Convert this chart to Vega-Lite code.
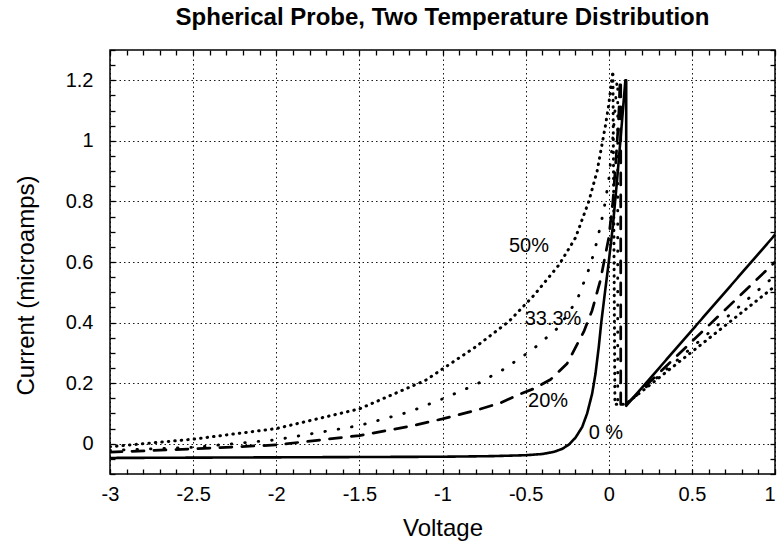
{
  "$schema": "https://vega.github.io/schema/vega-lite/v6.json",
  "autosize": "none",
  "width": 665,
  "height": 424,
  "padding": {"left": 110, "top": 50, "right": 4, "bottom": 76},
  "background": "white",
  "config": {
    "view": {"stroke": "black", "strokeWidth": 1.5},
    "font": "Liberation Sans"
  },
  "title": {
    "text": "Spherical Probe, Two Temperature Distribution",
    "font": "Liberation Sans",
    "fontSize": 24,
    "fontWeight": "bold",
    "color": "black",
    "offset": 10,
    "anchor": "middle"
  },
  "datasets": {
    "curves": [
      {"series": "0%", "i": 0, "voltage": -3, "current": -0.047},
      {"series": "0%", "i": 1, "voltage": -2.5, "current": -0.046},
      {"series": "0%", "i": 2, "voltage": -2, "current": -0.045},
      {"series": "0%", "i": 3, "voltage": -1.5, "current": -0.044},
      {"series": "0%", "i": 4, "voltage": -1, "current": -0.043},
      {"series": "0%", "i": 5, "voltage": -0.7, "current": -0.041},
      {"series": "0%", "i": 6, "voltage": -0.5, "current": -0.038},
      {"series": "0%", "i": 7, "voltage": -0.4, "current": -0.034},
      {"series": "0%", "i": 8, "voltage": -0.33, "current": -0.027},
      {"series": "0%", "i": 9, "voltage": -0.28, "current": -0.017},
      {"series": "0%", "i": 10, "voltage": -0.24, "current": -0.003},
      {"series": "0%", "i": 11, "voltage": -0.2, "current": 0.02},
      {"series": "0%", "i": 12, "voltage": -0.16, "current": 0.055},
      {"series": "0%", "i": 13, "voltage": -0.13, "current": 0.1},
      {"series": "0%", "i": 14, "voltage": -0.1, "current": 0.165},
      {"series": "0%", "i": 15, "voltage": -0.08, "current": 0.23},
      {"series": "0%", "i": 16, "voltage": -0.06, "current": 0.32},
      {"series": "0%", "i": 17, "voltage": -0.045, "current": 0.4},
      {"series": "0%", "i": 18, "voltage": -0.025, "current": 0.49},
      {"series": "0%", "i": 19, "voltage": 0.0, "current": 0.6},
      {"series": "0%", "i": 20, "voltage": 0.025, "current": 0.72},
      {"series": "0%", "i": 21, "voltage": 0.05, "current": 0.87},
      {"series": "0%", "i": 22, "voltage": 0.07, "current": 1.0},
      {"series": "0%", "i": 23, "voltage": 0.088, "current": 1.12},
      {"series": "0%", "i": 24, "voltage": 0.1, "current": 1.2},
      {"series": "0%", "i": 25, "voltage": 0.105, "current": 1.2},
      {"series": "0%", "i": 26, "voltage": 0.105, "current": 0.125},
      {"series": "0%", "i": 27, "voltage": 1, "current": 0.69},

      {"series": "20%", "i": 0, "voltage": -3, "current": -0.028},
      {"series": "20%", "i": 1, "voltage": -2.5, "current": -0.017},
      {"series": "20%", "i": 2, "voltage": -2, "current": -0.004},
      {"series": "20%", "i": 3, "voltage": -1.5, "current": 0.027},
      {"series": "20%", "i": 4, "voltage": -1.2, "current": 0.057},
      {"series": "20%", "i": 5, "voltage": -1, "current": 0.082},
      {"series": "20%", "i": 6, "voltage": -0.8, "current": 0.11},
      {"series": "20%", "i": 7, "voltage": -0.65, "current": 0.135},
      {"series": "20%", "i": 8, "voltage": -0.55, "current": 0.16},
      {"series": "20%", "i": 9, "voltage": -0.45, "current": 0.182},
      {"series": "20%", "i": 10, "voltage": -0.35, "current": 0.212},
      {"series": "20%", "i": 11, "voltage": -0.25, "current": 0.265},
      {"series": "20%", "i": 12, "voltage": -0.15, "current": 0.37},
      {"series": "20%", "i": 13, "voltage": -0.1, "current": 0.44},
      {"series": "20%", "i": 14, "voltage": -0.05, "current": 0.54},
      {"series": "20%", "i": 15, "voltage": 0.0, "current": 0.68},
      {"series": "20%", "i": 16, "voltage": 0.025, "current": 0.8},
      {"series": "20%", "i": 17, "voltage": 0.045, "current": 0.95},
      {"series": "20%", "i": 18, "voltage": 0.06, "current": 1.08},
      {"series": "20%", "i": 19, "voltage": 0.068, "current": 1.2},
      {"series": "20%", "i": 20, "voltage": 0.072, "current": 1.2},
      {"series": "20%", "i": 21, "voltage": 0.072, "current": 0.13},
      {"series": "20%", "i": 22, "voltage": 0.1, "current": 0.127},
      {"series": "20%", "i": 23, "voltage": 1, "current": 0.6},

      {"series": "33.3%", "i": 0, "voltage": -3, "current": -0.022},
      {"series": "33.3%", "i": 1, "voltage": -2.5, "current": -0.012},
      {"series": "33.3%", "i": 2, "voltage": -2, "current": 0.013},
      {"series": "33.3%", "i": 3, "voltage": -1.5, "current": 0.06},
      {"series": "33.3%", "i": 4, "voltage": -1.2, "current": 0.105},
      {"series": "33.3%", "i": 5, "voltage": -1, "current": 0.148},
      {"series": "33.3%", "i": 6, "voltage": -0.8, "current": 0.195},
      {"series": "33.3%", "i": 7, "voltage": -0.64, "current": 0.243},
      {"series": "33.3%", "i": 8, "voltage": -0.46, "current": 0.31},
      {"series": "33.3%", "i": 9, "voltage": -0.3, "current": 0.385},
      {"series": "33.3%", "i": 10, "voltage": -0.19, "current": 0.475},
      {"series": "33.3%", "i": 11, "voltage": -0.11, "current": 0.59},
      {"series": "33.3%", "i": 12, "voltage": -0.07, "current": 0.67},
      {"series": "33.3%", "i": 13, "voltage": -0.03, "current": 0.77},
      {"series": "33.3%", "i": 14, "voltage": 0.0, "current": 0.87},
      {"series": "33.3%", "i": 15, "voltage": 0.02, "current": 0.98},
      {"series": "33.3%", "i": 16, "voltage": 0.035, "current": 1.08},
      {"series": "33.3%", "i": 17, "voltage": 0.05, "current": 1.2},
      {"series": "33.3%", "i": 18, "voltage": 0.054, "current": 1.2},
      {"series": "33.3%", "i": 19, "voltage": 0.054, "current": 0.13},
      {"series": "33.3%", "i": 20, "voltage": 0.1, "current": 0.128},
      {"series": "33.3%", "i": 21, "voltage": 1, "current": 0.555},

      {"series": "50%", "i": 0, "voltage": -3, "current": -0.01},
      {"series": "50%", "i": 1, "voltage": -2.5, "current": 0.015},
      {"series": "50%", "i": 2, "voltage": -2, "current": 0.05},
      {"series": "50%", "i": 3, "voltage": -1.5, "current": 0.115},
      {"series": "50%", "i": 4, "voltage": -1.1, "current": 0.21},
      {"series": "50%", "i": 5, "voltage": -0.98, "current": 0.254},
      {"series": "50%", "i": 6, "voltage": -0.8, "current": 0.32},
      {"series": "50%", "i": 7, "voltage": -0.6, "current": 0.404},
      {"series": "50%", "i": 8, "voltage": -0.45, "current": 0.49},
      {"series": "50%", "i": 9, "voltage": -0.3, "current": 0.59},
      {"series": "50%", "i": 10, "voltage": -0.2, "current": 0.68},
      {"series": "50%", "i": 11, "voltage": -0.12, "current": 0.8},
      {"series": "50%", "i": 12, "voltage": -0.07, "current": 0.9},
      {"series": "50%", "i": 13, "voltage": -0.02, "current": 1.05},
      {"series": "50%", "i": 14, "voltage": 0.0, "current": 1.12},
      {"series": "50%", "i": 15, "voltage": 0.025, "current": 1.23},
      {"series": "50%", "i": 16, "voltage": 0.037, "current": 0.13},
      {"series": "50%", "i": 17, "voltage": 0.1, "current": 0.13},
      {"series": "50%", "i": 18, "voltage": 1, "current": 0.52}
    ],
    "labels": [
      {"text": "50%", "voltage": -0.48, "current": 0.653},
      {"text": "33.3%", "voltage": -0.335, "current": 0.412},
      {"text": "20%", "voltage": -0.365, "current": 0.142},
      {"text": "0 %", "voltage": -0.017, "current": 0.036}
    ]
  },
  "layer": [
    {
      "data": {"name": "curves"},
      "mark": {"type": "line", "color": "black", "strokeCap": "round", "strokeJoin": "round", "clip": true},
      "encoding": {
        "x": {
          "field": "voltage", "type": "quantitative",
          "scale": {"domain": [-3, 1], "nice": false, "zero": false},
          "axis": {
            "orient": "bottom",
            "title": "Voltage",
            "titleFont": "Liberation Sans", "titleFontSize": 24, "titleFontWeight": "normal", "titleColor": "black", "titlePadding": 12,
            "values": [-3, -2.9, -2.8, -2.7, -2.6, -2.5, -2.4, -2.3, -2.2, -2.1, -2, -1.9, -1.8, -1.7, -1.6, -1.5, -1.4, -1.3, -1.2, -1.1, -1, -0.9, -0.8, -0.7, -0.6, -0.5, -0.4, -0.3, -0.2, -0.1, 0, 0.1, 0.2, 0.3, 0.4, 0.5, 0.6, 0.7, 0.8, 0.9, 1],
            "labelExpr": "abs(datum.value*2 - round(datum.value*2)) < 0.000001 ? '' + datum.value : ''",
            "labelAlign": {"condition": {"test": "datum.value > 0.99", "value": "right"}, "value": "center"},
            "labelFont": "Liberation Sans", "labelFontSize": 20, "labelColor": "black", "labelPadding": 15, "labelFlush": false, "labelOverlap": false,
            "domain": false,
            "ticks": true, "tickSize": -5, "tickColor": "black", "tickWidth": 1.3,
            "grid": true, "gridColor": "black", "gridWidth": 1, "gridDash": [1.5, 3],
            "gridOpacity": {"condition": {"test": "abs(datum.value*2 - round(datum.value*2)) < 0.000001", "value": 0.9}, "value": 0}
          }
        },
        "y": {
          "field": "current", "type": "quantitative",
          "scale": {"domain": [-0.1, 1.3], "nice": false, "zero": false},
          "axis": {
            "orient": "left",
            "title": "Current (microamps)",
            "titleFont": "Liberation Sans", "titleFontSize": 24, "titleFontWeight": "normal", "titleColor": "black", "titlePadding": 27, "titleY": 235,
            "values": [-0.1, -0.05, 0, 0.05, 0.1, 0.15, 0.2, 0.25, 0.3, 0.35, 0.4, 0.45, 0.5, 0.55, 0.6, 0.65, 0.7, 0.75, 0.8, 0.85, 0.9, 0.95, 1, 1.05, 1.1, 1.15, 1.2, 1.25, 1.3],
            "labelExpr": "abs(datum.value*5 - round(datum.value*5)) < 0.000001 && datum.value > -0.05 && datum.value < 1.25 ? '' + datum.value : ''",
            "labelFont": "Liberation Sans", "labelFontSize": 20, "labelColor": "black", "labelPadding": 22, "labelFlush": false, "labelOverlap": false,
            "domain": false,
            "ticks": true, "tickSize": -5, "tickColor": "black", "tickWidth": 1.3,
            "grid": true, "gridColor": "black", "gridWidth": 1, "gridDash": [1.5, 3],
            "gridOpacity": {"condition": {"test": "abs(datum.value*5 - round(datum.value*5)) < 0.000001 && datum.value > -0.05 && datum.value < 1.25", "value": 0.9}, "value": 0}
          }
        },
        "detail": {"field": "series"},
        "order": {"field": "i", "type": "quantitative"},
        "strokeDash": {
          "field": "series", "type": "nominal",
          "scale": {"domain": ["0%", "20%", "33.3%", "50%"], "range": [[1, 0], [12, 10], [0.5, 13], [0.5, 6]]},
          "legend": null
        },
        "strokeWidth": {
          "field": "series", "type": "nominal",
          "scale": {"domain": ["0%", "20%", "33.3%", "50%"], "range": [2.6, 3, 3.4, 3.2]},
          "legend": null
        }
      }
    },
    {
      "data": {"name": "labels"},
      "mark": {"type": "text", "font": "Liberation Sans", "fontSize": 20, "color": "black", "align": "center", "baseline": "middle"},
      "encoding": {
        "x": {
          "field": "voltage", "type": "quantitative",
          "scale": {"domain": [-3, 1], "nice": false, "zero": false},
          "axis": {
            "orient": "top", "title": null, "labels": false, "domain": false, "grid": false,
            "values": [-3, -2.9, -2.8, -2.7, -2.6, -2.5, -2.4, -2.3, -2.2, -2.1, -2, -1.9, -1.8, -1.7, -1.6, -1.5, -1.4, -1.3, -1.2, -1.1, -1, -0.9, -0.8, -0.7, -0.6, -0.5, -0.4, -0.3, -0.2, -0.1, 0, 0.1, 0.2, 0.3, 0.4, 0.5, 0.6, 0.7, 0.8, 0.9, 1],
            "ticks": true, "tickSize": -5, "tickColor": "black", "tickWidth": 1.3
          }
        },
        "y": {
          "field": "current", "type": "quantitative",
          "scale": {"domain": [-0.1, 1.3], "nice": false, "zero": false},
          "axis": {
            "orient": "right", "title": null, "labels": false, "domain": false, "grid": false,
            "values": [-0.1, -0.05, 0, 0.05, 0.1, 0.15, 0.2, 0.25, 0.3, 0.35, 0.4, 0.45, 0.5, 0.55, 0.6, 0.65, 0.7, 0.75, 0.8, 0.85, 0.9, 0.95, 1, 1.05, 1.1, 1.15, 1.2, 1.25, 1.3],
            "ticks": true, "tickSize": -5, "tickColor": "black", "tickWidth": 1.3
          }
        },
        "text": {"field": "text"}
      }
    }
  ],
  "resolve": {"axis": {"x": "independent", "y": "independent"}}
}
